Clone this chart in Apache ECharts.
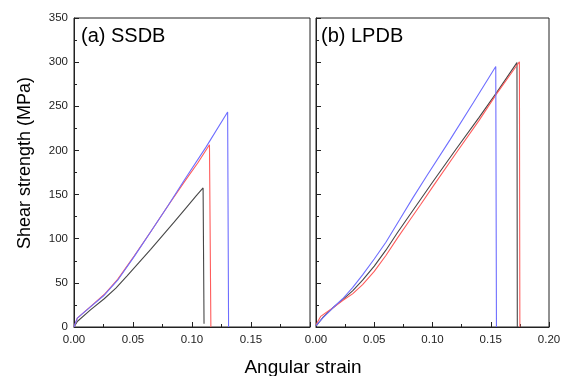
<!DOCTYPE html>
<html>
<head>
<meta charset="utf-8">
<script src="https://cdn.jsdelivr.net/npm/echarts@6/dist/echarts.min.js"></script>
<style>html,body{margin:0;padding:0;background:#fff;}#c{width:570px;height:376px;}</style>
</head>
<body>
<div id="c"></div>
<script>
// Panel (a) SSDB
var aBlackX = [0, 0.003, 0.0142, 0.0256, 0.0355, 0.045, 0.055, 0.065, 0.075, 0.085, 0.095, 0.1035, 0.1094, 0.1102, 0.1102];
var aBlackY = [0, 6.5, 19.6, 32, 44, 58, 73, 88, 103.5, 119, 135, 148.5, 157.5, 156, 3.8];
var aRedX = [0, 0.0028, 0.0142, 0.0256, 0.037, 0.0511, 0.0653, 0.0795, 0.0938, 0.105, 0.1148, 0.1160, 0.1160];
var aRedY = [0, 10, 23.4, 36.8, 54, 80.5, 108.5, 137, 165, 186, 206.5, 205, 0];
var aBlueX = [0, 0.0028, 0.0142, 0.0256, 0.037, 0.0511, 0.0653, 0.0795, 0.0938, 0.112, 0.1302, 0.131, 0.131];
var aBlueY = [0, 10, 23, 36, 53, 80, 108.5, 137, 167, 204, 243.5, 242, 0];
// Panel (b) LPDB
var bBlackX = [0, 0.0057, 0.0143, 0.0229, 0.0314, 0.04, 0.05, 0.06, 0.07, 0.08, 0.09, 0.10, 0.12, 0.14, 0.155, 0.1725, 0.1728, 0.1728];
var bBlackY = [1, 10.5, 21.5, 31, 41, 53, 69, 87, 107, 126, 145, 164, 201, 237.5, 265.5, 299.5, 298, 0];
var bRedX = [0, 0.004, 0.0143, 0.0229, 0.0314, 0.04, 0.05, 0.06, 0.07, 0.08, 0.09, 0.10, 0.12, 0.14, 0.155, 0.1746, 0.1750, 0.1750];
var bRedY = [2.5, 12, 21.5, 30, 37.5, 48, 63, 81, 101, 120, 139, 158.5, 196.5, 234, 264, 300.5, 299, 0];
var bBlueX = [0, 0.0057, 0.0143, 0.0229, 0.0314, 0.04, 0.05, 0.06, 0.072, 0.083, 0.095, 0.115, 0.135, 0.1543, 0.1549, 0.1549];
var bBlueY = [1.5, 10, 21.5, 32, 44.5, 59, 77, 96, 122, 146, 171, 212, 254, 295, 293, 0];

var yTicks = [0, 50, 100, 150, 200, 250, 300, 350];
var xTicks = ['0.00', '0.05', '0.10', '0.15', '0.20'];

function pairs(xs, ys) { return xs.map(function (x, i) { return [x, ys[i]]; }); }

var lbl = { fontFamily: 'Liberation Sans, Arial', fontSize: 11.5, color: '#222' };
function xAxis(idx, showMax) {
  return {
    type: 'value', gridIndex: idx, min: 0, max: 0.2, interval: 0.05,
    axisLine: { show: true, onZero: false, lineStyle: { color: '#222', width: 1 } },
    axisTick: { show: true, inside: true, length: 5, lineStyle: { color: '#222' } },
    minorTick: { show: true, splitNumber: 2, length: 3, lineStyle: { color: '#222' } },
    splitLine: { show: false },
    axisLabel: Object.assign({ margin: 7, showMaxLabel: showMax, formatter: function (v) { return xTicks[Math.round(v / 0.05)]; } }, lbl)
  };
}
function yAxis(idx, showLabels) {
  return {
    type: 'value', gridIndex: idx, min: 0, max: 350, interval: 50,
    axisLine: { show: true, lineStyle: { color: '#222', width: 1 } },
    axisTick: { show: true, inside: true, length: 5, lineStyle: { color: '#222' } },
    minorTick: { show: true, splitNumber: 2, length: 3, lineStyle: { color: '#222' } },
    splitLine: { show: false },
    axisLabel: Object.assign({ show: showLabels, margin: 6, formatter: function (v) { return String(yTicks[Math.round(v / 50)]); } }, lbl)
  };
}
function line(name, xi, data, color) {
  return {
    name: name, type: 'line', xAxisIndex: xi, yAxisIndex: xi, data: data,
    showSymbol: false, symbol: 'none', animation: false,
    lineStyle: { color: color, width: 1.1 }
  };
}
var BLUE = '#6e6eff', RED = '#ff5c5c', BLACK = '#474747';

var chart = echarts.init(document.getElementById('c'), null, { renderer: 'canvas' });
chart.setOption({
  backgroundColor: '#fff',
  animation: false,
  grid: [
    { left: 74, right: 260, top: 18, bottom: 49, show: true, borderColor: '#222', borderWidth: 1, backgroundColor: 'transparent' },
    { left: 316, right: 21, top: 18, bottom: 49, show: true, borderColor: '#222', borderWidth: 1, backgroundColor: 'transparent' }
  ],
  xAxis: [xAxis(0, false), xAxis(1, true)],
  yAxis: [yAxis(0, true), yAxis(1, false)],
  series: [
    line('a-black', 0, pairs(aBlackX, aBlackY), BLACK),
    line('a-red', 0, pairs(aRedX, aRedY), RED),
    line('a-blue', 0, pairs(aBlueX, aBlueY), BLUE),
    line('b-black', 1, pairs(bBlackX, bBlackY), BLACK),
    line('b-red', 1, pairs(bRedX, bRedY), RED),
    line('b-blue', 1, pairs(bBlueX, bBlueY), BLUE)
  ],
  graphic: [
    { type: 'text', left: 81, top: 26, style: { text: '(a) SSDB', font: '20px "Liberation Sans", Arial', fill: '#000' } },
    { type: 'text', left: 321, top: 26, style: { text: '(b) LPDB', font: '20px "Liberation Sans", Arial', fill: '#000' } },
    { type: 'text', x: 25, y: 163, rotation: Math.PI / 2, style: { text: 'Shear strength (MPa)', font: '18px "Liberation Sans", Arial', fill: '#000', align: 'center', verticalAlign: 'middle' } },
    { type: 'text', x: 303, y: 368, style: { text: 'Angular strain', font: '19px "Liberation Sans", Arial', fill: '#000', align: 'center', verticalAlign: 'middle' } }
  ]
});
</script>
</body>
</html>
